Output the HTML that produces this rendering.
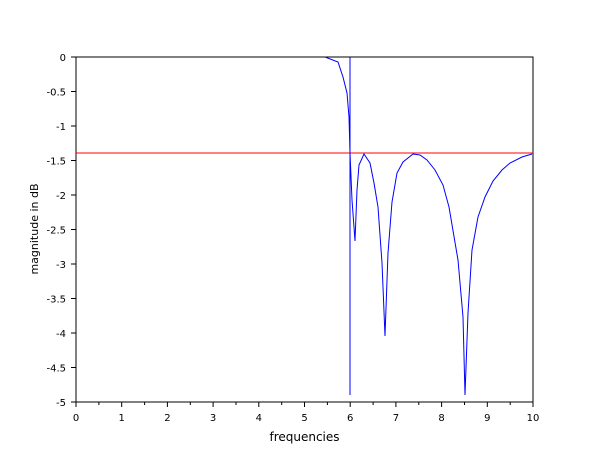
<!DOCTYPE html>
<html><head><style>body{margin:0;background:#fff}svg{display:block}</style></head><body>
<svg width="610" height="460" xmlns="http://www.w3.org/2000/svg" font-family="DejaVu Sans, Liberation Sans, sans-serif">
<rect width="610" height="460" fill="#fff"/>
<rect x="76" y="57" width="457" height="345" fill="none" stroke="#000" stroke-width="1"/>
<g stroke="#000" stroke-width="1">
<line x1="76" y1="402" x2="76" y2="407"/><line x1="121.7" y1="402" x2="121.7" y2="407"/><line x1="167.4" y1="402" x2="167.4" y2="407"/><line x1="213.1" y1="402" x2="213.1" y2="407"/><line x1="258.8" y1="402" x2="258.8" y2="407"/><line x1="304.5" y1="402" x2="304.5" y2="407"/><line x1="350.2" y1="402" x2="350.2" y2="407"/><line x1="395.9" y1="402" x2="395.9" y2="407"/><line x1="441.6" y1="402" x2="441.6" y2="407"/><line x1="487.3" y1="402" x2="487.3" y2="407"/><line x1="533" y1="402" x2="533" y2="407"/>
<line x1="98.9" y1="402" x2="98.9" y2="405"/><line x1="144.6" y1="402" x2="144.6" y2="405"/><line x1="190.3" y1="402" x2="190.3" y2="405"/><line x1="236" y1="402" x2="236" y2="405"/><line x1="281.7" y1="402" x2="281.7" y2="405"/><line x1="327.4" y1="402" x2="327.4" y2="405"/><line x1="373.1" y1="402" x2="373.1" y2="405"/><line x1="418.8" y1="402" x2="418.8" y2="405"/><line x1="464.5" y1="402" x2="464.5" y2="405"/><line x1="510.2" y1="402" x2="510.2" y2="405"/>
<line x1="71" y1="57" x2="76" y2="57"/><line x1="71" y1="91.5" x2="76" y2="91.5"/><line x1="71" y1="126" x2="76" y2="126"/><line x1="71" y1="160.5" x2="76" y2="160.5"/><line x1="71" y1="195" x2="76" y2="195"/><line x1="71" y1="229.5" x2="76" y2="229.5"/><line x1="71" y1="264" x2="76" y2="264"/><line x1="71" y1="298.5" x2="76" y2="298.5"/><line x1="71" y1="333" x2="76" y2="333"/><line x1="71" y1="367.5" x2="76" y2="367.5"/><line x1="71" y1="402" x2="76" y2="402"/>
</g>
<g font-size="10" fill="#000" text-anchor="middle">
<text x="76" y="421">0</text><text x="121.7" y="421">1</text><text x="167.4" y="421">2</text><text x="213.1" y="421">3</text><text x="258.8" y="421">4</text><text x="304.5" y="421">5</text><text x="350.2" y="421">6</text><text x="395.9" y="421">7</text><text x="441.6" y="421">8</text><text x="487.3" y="421">9</text><text x="533" y="421">10</text>
</g>
<g font-size="10" fill="#000" text-anchor="end">
<text x="66" y="61">0</text><text x="66" y="95.5">-0.5</text><text x="66" y="130">-1</text><text x="66" y="164.5">-1.5</text><text x="66" y="199">-2</text><text x="66" y="233.5">-2.5</text><text x="66" y="268">-3</text><text x="66" y="302.5">-3.5</text><text x="66" y="337">-4</text><text x="66" y="371.5">-4.5</text><text x="66" y="406">-5</text>
</g>
<text x="304.5" y="441" font-size="12" text-anchor="middle">frequencies</text>
<text transform="translate(38,229) rotate(-90)" font-size="11" text-anchor="middle">magnitude in dB</text>
<line x1="76" y1="153" x2="533" y2="153" stroke="#ff0000" stroke-width="1"/>
<line x1="350" y1="57" x2="350" y2="395" stroke="#0000ff" stroke-width="1"/>
<polyline fill="none" stroke="#0000ff" stroke-width="1" points="325,57 338,62 343,77 347,93 349,117 350,153 352,200 355,241 357,190 359,165 364,154 370,163 374,183 378,207 382,263 385,336 388,253 392,202 397,173 403,162 413,154 420,155 427,160 435,170 443,185 449,207 458,260 463,317 465,395 468,313 472,250 478,217 485,197 493,181 502,170 510,163 522,157 532,154"/>
</svg>
</body></html>
